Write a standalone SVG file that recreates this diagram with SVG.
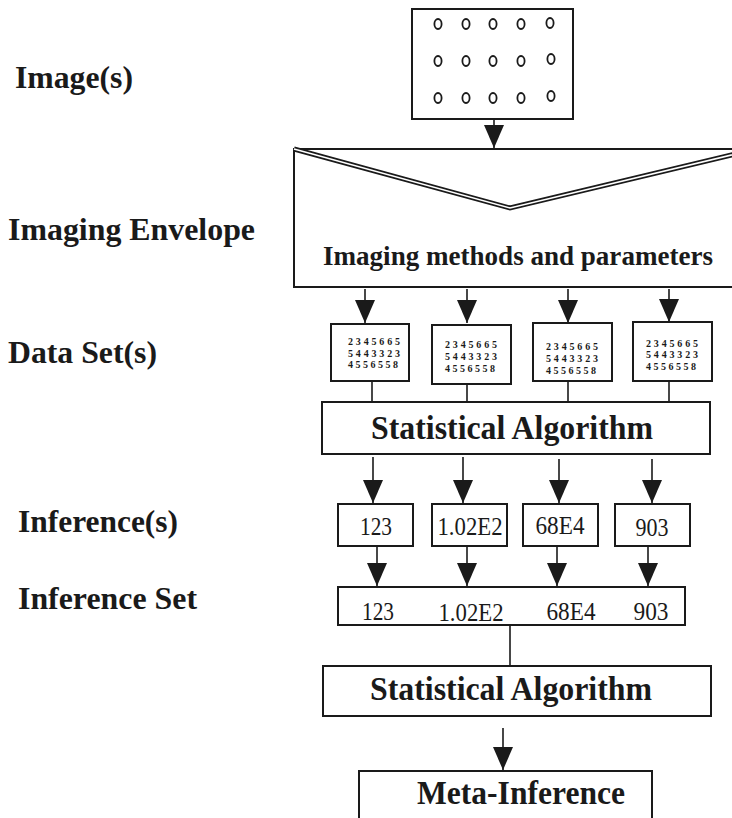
<svg xmlns="http://www.w3.org/2000/svg" width="732" height="818" viewBox="0 0 732 818">
<style>
  .box { fill: #fff; stroke: #1a1a1a; stroke-width: 2; }
  .ln { fill: none; stroke: #1a1a1a; stroke-width: 1.6; }
  .arr { fill: none; stroke: #1a1a1a; stroke-width: 1.6; marker-end: url(#ah); }
  .lbl { font-family: "Liberation Serif", "Times New Roman", serif; font-weight: bold; font-size: 32px; fill: #1a1a1a; }
  .big { font-family: "Liberation Serif", "Times New Roman", serif; font-weight: bold; font-size: 34px; fill: #1a1a1a; text-anchor: middle; }
  .mid { font-family: "Liberation Serif", "Times New Roman", serif; font-weight: bold; font-size: 27px; fill: #1a1a1a; text-anchor: middle; }
  .num { font-family: "Liberation Serif", "Times New Roman", serif; font-size: 25px; fill: #1a1a1a; text-anchor: middle; }
  .dig { font-family: "Liberation Serif", "Times New Roman", serif; font-weight: bold; font-size: 10px; fill: #1a1a1a; }
  .dot { fill: none; stroke: #1a1a1a; stroke-width: 1.8; }
</style>
<defs>
  <marker id="ah" markerUnits="userSpaceOnUse" markerWidth="23" markerHeight="20" refX="23" refY="10" orient="auto" viewBox="0 0 23 20">
    <path d="M0,0 L23,10 L0,20 z" fill="#1a1a1a"/>
  </marker>
</defs>
<rect width="732" height="818" fill="#fff"/>

<g id="labels">
  <text class="lbl" x="15" y="88" textLength="118" lengthAdjust="spacingAndGlyphs">Image(s)</text>
  <text class="lbl" x="8" y="240" textLength="247" lengthAdjust="spacingAndGlyphs">Imaging Envelope</text>
  <text class="lbl" x="8" y="363" textLength="149" lengthAdjust="spacingAndGlyphs">Data Set(s)</text>
  <text class="lbl" x="18" y="532" textLength="160" lengthAdjust="spacingAndGlyphs">Inference(s)</text>
  <text class="lbl" x="18" y="609" textLength="179" lengthAdjust="spacingAndGlyphs">Inference Set</text>
</g>

<g id="connectors">
  <path class="arr" d="M494,119 V148"/>
  <path class="arr" d="M365,289 V323"/>
  <path class="arr" d="M467,289 V323"/>
  <path class="arr" d="M568,289 V323"/>
  <path class="arr" d="M669,289 V322"/>
  <path class="ln" d="M372,381 V402"/>
  <path class="ln" d="M467,384 V402"/>
  <path class="ln" d="M568,381 V402"/>
  <path class="ln" d="M669,381 V402"/>
  <path class="arr" d="M373,457 V503"/>
  <path class="arr" d="M463,457 V503"/>
  <path class="arr" d="M559,459 V503"/>
  <path class="arr" d="M652,459 V503"/>
  <path class="arr" d="M377,546 V586"/>
  <path class="arr" d="M467,546 V586"/>
  <path class="arr" d="M557,546 V586"/>
  <path class="arr" d="M648,546 V586"/>
  <path class="ln" d="M510,625 V666"/>
  <path class="arr" d="M503,728 V770"/>
</g>

<g id="images">
  <rect class="box" x="412" y="9" width="161" height="110"/>
  <g class="dot">
    <ellipse cx="438" cy="24" rx="3.6" ry="5"/><ellipse cx="466" cy="24" rx="3.6" ry="5"/><ellipse cx="493" cy="24" rx="3.6" ry="5"/><ellipse cx="521" cy="24" rx="3.6" ry="5"/><ellipse cx="550" cy="23" rx="3.6" ry="5"/>
    <ellipse cx="438" cy="61" rx="3.6" ry="5"/><ellipse cx="466" cy="61" rx="3.6" ry="5"/><ellipse cx="493" cy="61" rx="3.6" ry="5"/><ellipse cx="521" cy="61" rx="3.6" ry="5"/><ellipse cx="551" cy="59" rx="3.6" ry="5"/>
    <ellipse cx="438" cy="98" rx="3.6" ry="5"/><ellipse cx="466" cy="98" rx="3.6" ry="5"/><ellipse cx="493" cy="98" rx="3.6" ry="5"/><ellipse cx="521" cy="98" rx="3.6" ry="5"/><ellipse cx="551" cy="96" rx="3.6" ry="5"/>
  </g>
</g>

<g id="envelope">
  <path d="M740,149 H294 V287 H740" fill="#fff" stroke="#1a1a1a" stroke-width="2"/>
  <polyline points="294,149 510,208 740,153" fill="none" stroke="#1a1a1a" stroke-width="5"/>
  <polyline points="294,149 510,208 740,153" fill="none" stroke="#fff" stroke-width="1.6"/>
  <text class="mid" x="518" y="265" textLength="390" lengthAdjust="spacingAndGlyphs">Imaging methods and parameters</text>
</g>

<g id="data1">
  <rect class="box" x="331" y="324" width="78" height="57"/>
  <text class="dig" x="348" y="345" textLength="52" lengthAdjust="spacing">2345665</text>
  <text class="dig" x="348" y="357" textLength="52" lengthAdjust="spacing">5443323</text>
  <text class="dig" x="348" y="368" textLength="50" lengthAdjust="spacing">4556558</text>
</g>
<g id="data2">
  <rect class="box" x="432" y="325" width="79" height="59"/>
  <text class="dig" x="445" y="348" textLength="52" lengthAdjust="spacing">2345665</text>
  <text class="dig" x="445" y="360" textLength="52" lengthAdjust="spacing">5443323</text>
  <text class="dig" x="445" y="372" textLength="50" lengthAdjust="spacing">4556558</text>
</g>
<g id="data3">
  <rect class="box" x="533" y="323" width="79" height="58"/>
  <text class="dig" x="546" y="350" textLength="52" lengthAdjust="spacing">2345665</text>
  <text class="dig" x="546" y="362" textLength="52" lengthAdjust="spacing">5443323</text>
  <text class="dig" x="546" y="374" textLength="50" lengthAdjust="spacing">4556558</text>
</g>
<g id="data4">
  <rect class="box" x="633" y="322" width="79" height="59"/>
  <text class="dig" x="646" y="347" textLength="52" lengthAdjust="spacing">2345665</text>
  <text class="dig" x="646" y="358" textLength="52" lengthAdjust="spacing">5443323</text>
  <text class="dig" x="646" y="370" textLength="50" lengthAdjust="spacing">4556558</text>
</g>

<g id="stat1">
  <rect class="box" x="322" y="402" width="388" height="52"/>
  <text class="big" x="512" y="439" textLength="282" lengthAdjust="spacingAndGlyphs">Statistical Algorithm</text>
</g>

<g id="inf1"><rect class="box" x="338" y="504" width="75" height="42"/><text class="num" x="376" y="535" textLength="32" lengthAdjust="spacingAndGlyphs">123</text></g>
<g id="inf2"><rect class="box" x="432" y="504" width="75" height="42"/><text class="num" x="470" y="535" textLength="65" lengthAdjust="spacingAndGlyphs">1.02E2</text></g>
<g id="inf3"><rect class="box" x="523" y="504" width="75" height="42"/><text class="num" x="560" y="534" textLength="49" lengthAdjust="spacingAndGlyphs">68E4</text></g>
<g id="inf4"><rect class="box" x="615" y="504" width="75" height="42"/><text class="num" x="652" y="536" textLength="33" lengthAdjust="spacingAndGlyphs">903</text></g>

<g id="infset">
  <rect class="box" x="338" y="587" width="347" height="38"/>
  <text class="num" x="378" y="620" textLength="32" lengthAdjust="spacingAndGlyphs">123</text>
  <text class="num" x="471" y="621" textLength="65" lengthAdjust="spacingAndGlyphs">1.02E2</text>
  <text class="num" x="571" y="620" textLength="49" lengthAdjust="spacingAndGlyphs">68E4</text>
  <text class="num" x="651" y="620" textLength="35" lengthAdjust="spacingAndGlyphs">903</text>
</g>

<g id="stat2">
  <rect class="box" x="323" y="666" width="388" height="50"/>
  <text class="big" x="511" y="700" textLength="282" lengthAdjust="spacingAndGlyphs">Statistical Algorithm</text>
</g>

<g id="meta">
  <path d="M359,830 V771 H652 V830" fill="#fff" stroke="#1a1a1a" stroke-width="2"/>
  <text class="big" x="521" y="804" textLength="208" lengthAdjust="spacingAndGlyphs">Meta-Inference</text>
</g>
</svg>
